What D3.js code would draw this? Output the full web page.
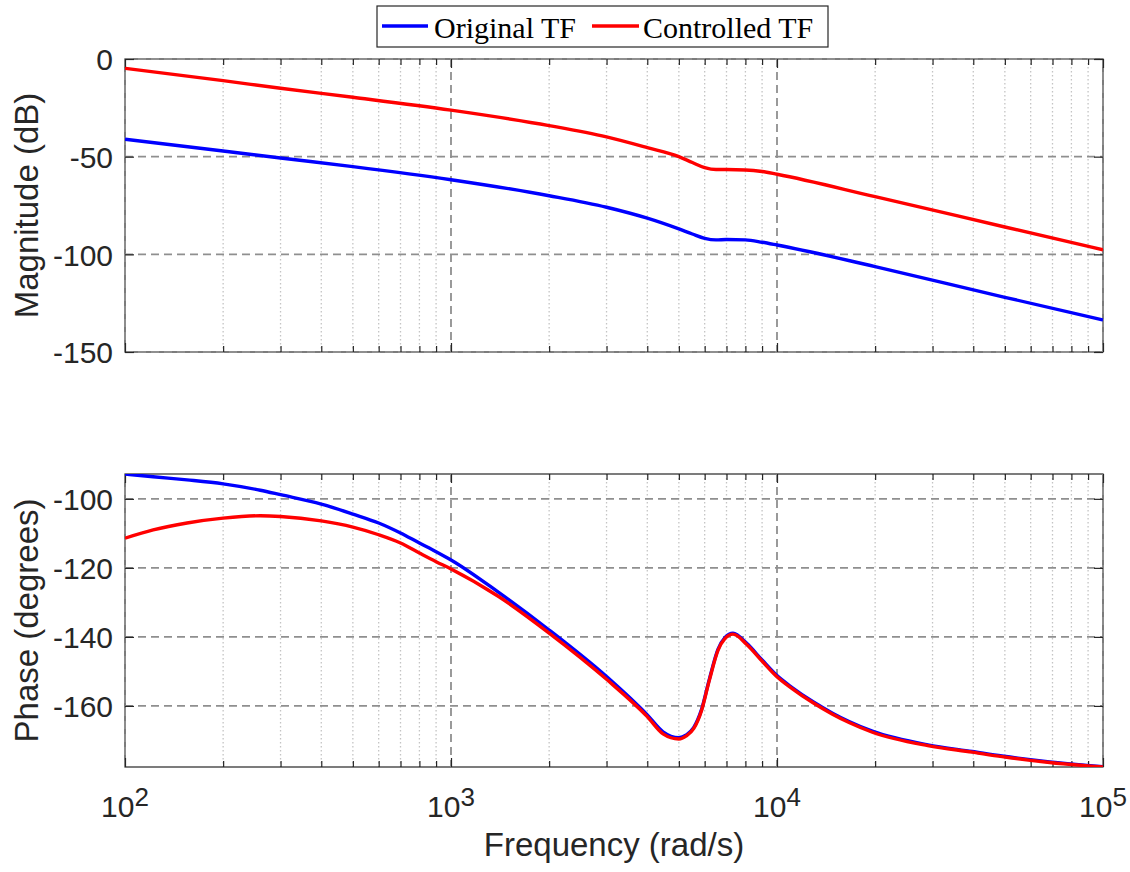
<!DOCTYPE html>
<html>
<head>
<meta charset="utf-8">
<script src="https://cdn.jsdelivr.net/npm/d3@7"></script>
<style>
  html, body { margin: 0; padding: 0; background: #fff; }
  svg { display: block; }
</style>
</head>
<body>
<svg id="chart" width="1130" height="872"></svg>
<script>
// ---------------- DATA ----------------
const seriesNames = ["Original TF", "Controlled TF"];
const seriesColors = ["#0000ff", "#ff0000"];

const magFreq = [100, 200, 300, 500, 1000, 2000, 3000, 4000, 5000, 5500, 6000, 6500, 7000, 8000, 9000, 10000, 20000, 50000, 100000];
const magOriginal = [-41.1, -47.1, -50.7, -55.1, -61.8, -70.0, -75.9, -81.5, -87.0, -89.6, -91.8, -92.6, -92.4, -92.6, -93.8, -95.2, -106.3, -122.0, -133.6];
const magControlled = [-4.8, -11.1, -15.0, -19.6, -26.2, -34.1, -39.9, -45.4, -50.0, -53.0, -55.6, -56.6, -56.6, -56.8, -57.6, -59.0, -70.5, -86.0, -97.7];

const phaseFreq = [100, 122, 155, 200, 260, 300, 400, 500, 600, 700, 800, 900, 1000, 1400, 2000, 3000, 4000, 4470, 5000, 5270, 5550, 5870, 6200, 6590, 6920, 7330, 8060, 9000, 9940, 11100, 12900, 14800, 16700, 19700, 29000, 39700, 49000, 59000, 68600, 100000];
const phaseOriginal = [-92.8, -93.6, -94.5, -95.65, -97.5, -98.8, -101.5, -104.4, -107.0, -109.9, -112.8, -115.3, -117.7, -127.1, -138.0, -151.5, -162.6, -167.5, -169.2, -168.4, -166.3, -161.0, -152.3, -143.6, -140.2, -138.9, -141.8, -146.7, -151.0, -154.6, -158.8, -162.1, -164.6, -167.4, -171.3, -173.2, -174.5, -175.5, -176.2, -177.6];
const phaseControlled = [-111.4, -109.0, -107.0, -105.6, -104.9, -105.1, -106.4, -108.2, -110.4, -112.8, -115.7, -118.2, -120.3, -128.3, -138.9, -152.3, -163.1, -168.1, -169.6, -168.7, -166.6, -161.3, -152.6, -143.9, -140.5, -139.2, -142.1, -147.0, -151.3, -154.9, -159.1, -162.4, -164.9, -167.7, -171.5, -173.4, -174.7, -175.7, -176.4, -177.7];

const xDomain = [100, 100000];
const xTickValues = [100, 1000, 10000, 100000];
const xTickExponents = ["2", "3", "4", "5"];
const magDomain = [-150, 0];
const magTicks = [-150, -100, -50, 0];
const phaseDomain = [-177.7, -92.8];
const phaseTicks = [-160, -140, -120, -100];

const xLabel = "Frequency (rad/s)";
const magLabel = "Magnitude (dB)";
const phaseLabel = "Phase (degrees)";

// ---------------- LAYOUT ----------------
const svg = d3.select("#chart");
const left = 125, right = 1103;
const panels = [
  { top: 59, bottom: 352, domain: magDomain, ticks: magTicks, label: magLabel,
    freq: magFreq, series: [magOriginal, magControlled], showX: false },
  { top: 474, bottom: 767, domain: phaseDomain, ticks: phaseTicks, label: phaseLabel,
    freq: phaseFreq, series: [phaseOriginal, phaseControlled], showX: true }
];

const x = d3.scaleLog().domain(xDomain).range([left, right]);

// minor tick values
const minorX = [];
for (let d = 100; d < 100000; d *= 10) {
  for (let k = 2; k <= 9; k++) minorX.push(d * k);
}

const axisColor = "#262626";
const tickFont = "'Liberation Sans', Arial, Helvetica, sans-serif";

panels.forEach((p, pi) => {
  const y = d3.scaleLinear().domain(p.domain).range([p.bottom, p.top]);
  const g = svg.append("g");

  const clipId = "clip" + pi;
  svg.append("clipPath").attr("id", clipId)
    .append("rect").attr("x", left).attr("y", p.top)
    .attr("width", right - left).attr("height", p.bottom - p.top);

  // minor grid (dotted)
  g.append("g").selectAll("line").data(minorX).join("line")
    .attr("x1", d => x(d)).attr("x2", d => x(d))
    .attr("y1", p.top).attr("y2", p.bottom)
    .attr("stroke", "#c4c4c4").attr("stroke-width", 1.3)
    .attr("stroke-dasharray", "1.5,2.5");

  // box
  g.append("rect").attr("x", left).attr("y", p.top)
    .attr("width", right - left).attr("height", p.bottom - p.top)
    .attr("fill", "none").attr("stroke", axisColor).attr("stroke-width", 1.2);

  // major grid (dashed)
  g.append("g").selectAll("line").data(xTickValues).join("line")
    .attr("x1", d => x(d)).attr("x2", d => x(d))
    .attr("y1", p.top).attr("y2", p.bottom)
    .attr("stroke", "#8f8f8f").attr("stroke-width", 1.8)
    .attr("stroke-dasharray", "8,5");
  g.append("g").selectAll("line").data(p.ticks).join("line")
    .attr("x1", left).attr("x2", right)
    .attr("y1", d => y(d)).attr("y2", d => y(d))
    .attr("stroke", "#8f8f8f").attr("stroke-width", 1.8)
    .attr("stroke-dasharray", "8,5");

  // ticks (inward) using d3 axes
  const tickLenMaj = 9, tickLenMin = 6;
  const axB = g.append("g").attr("transform", `translate(0,${p.bottom})`)
    .call(d3.axisBottom(x).tickValues(xTickValues).tickSize(-tickLenMaj).tickFormat(""));
  const axBm = g.append("g").attr("transform", `translate(0,${p.bottom})`)
    .call(d3.axisBottom(x).tickValues(minorX).tickSize(-tickLenMin).tickFormat(""));
  const axT = g.append("g").attr("transform", `translate(0,${p.top})`)
    .call(d3.axisTop(x).tickValues(xTickValues).tickSize(-tickLenMaj).tickFormat(""));
  const axTm = g.append("g").attr("transform", `translate(0,${p.top})`)
    .call(d3.axisTop(x).tickValues(minorX).tickSize(-tickLenMin).tickFormat(""));
  const axL = g.append("g").attr("transform", `translate(${left},0)`)
    .call(d3.axisLeft(y).tickValues(p.ticks).tickSize(-tickLenMaj).tickPadding(12).tickFormat(d => String(d)));
  const axR = g.append("g").attr("transform", `translate(${right},0)`)
    .call(d3.axisRight(y).tickValues(p.ticks).tickSize(-tickLenMaj).tickFormat(""));
  [axB, axBm, axT, axTm, axL, axR].forEach(a => {
    a.select(".domain").remove();
    a.selectAll(".tick line").attr("stroke", axisColor).attr("stroke-width", 1.2);
  });
  axL.selectAll(".tick text")
    .attr("fill", axisColor)
    .style("font-family", tickFont).style("font-size", "30px")
    .attr("dy", "0.36em");

  // x tick labels with superscripts
  if (p.showX) {
    const lab = g.append("g").selectAll("text").data(xTickValues).join("text")
      .attr("x", d => x(d)).attr("y", 817)
      .attr("text-anchor", "middle").attr("fill", axisColor)
      .style("font-family", tickFont).style("font-size", "30px");
    lab.append("tspan").text("10");
    lab.append("tspan").attr("dy", -11).style("font-size", "26px")
      .text((d, i) => xTickExponents[i]);
  }

  // lines
  const line = d3.line()
    .x(d => x(d[0])).y(d => y(d[1]))
    .curve(d3.curveMonotoneX);
  const lg = g.append("g").attr("clip-path", `url(#${clipId})`);
  p.series.forEach((vals, si) => {
    const pts = p.freq.map((f, i) => [f, vals[i]]);
    lg.append("path").datum(pts)
      .attr("d", line)
      .attr("fill", "none")
      .attr("stroke", seriesColors[si])
      .attr("stroke-width", 3.4)
      .attr("stroke-linejoin", "round");
  });

  // y label
  svg.append("text")
    .attr("transform", `translate(38,${(p.top + p.bottom) / 2}) rotate(-90)`)
    .attr("text-anchor", "middle")
    .attr("fill", axisColor)
    .style("font-family", tickFont).style("font-size", "33px")
    .text(p.label);
});

// x label
svg.append("text")
  .attr("x", (left + right) / 2).attr("y", 856)
  .attr("text-anchor", "middle").attr("fill", axisColor)
  .style("font-family", tickFont).style("font-size", "33px")
  .text(xLabel);

// legend
const leg = svg.append("g");
leg.append("rect").attr("x", 377).attr("y", 6).attr("width", 451).attr("height", 41)
  .attr("fill", "#fff").attr("stroke", axisColor).attr("stroke-width", 1.2);
const legItems = [
  { x1: 382, x2: 428, tx: 434 },
  { x1: 592, x2: 639, tx: 643 }
];
legItems.forEach((it, i) => {
  leg.append("line").attr("x1", it.x1).attr("x2", it.x2).attr("y1", 26).attr("y2", 26)
    .attr("stroke", seriesColors[i]).attr("stroke-width", 3.4);
  leg.append("text").attr("x", it.tx).attr("y", 37.5)
    .attr("fill", "#000")
    .style("font-family", "'Liberation Serif', 'Times New Roman', serif")
    .style("font-size", "30px")
    .text(seriesNames[i]);
});
</script>
</body>
</html>
